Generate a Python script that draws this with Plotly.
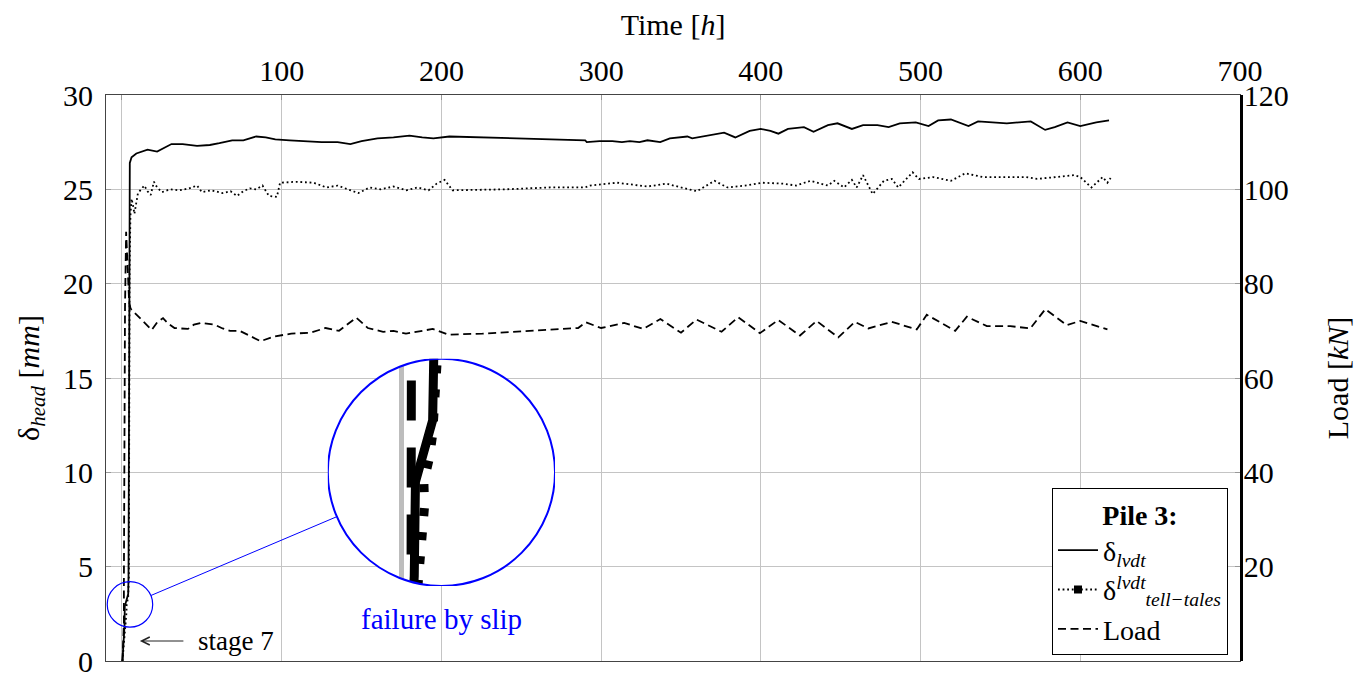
import numpy as np
import plotly.graph_objects as go

# ---------------- data ----------------
time_lvdt = [0.3, 1.0, 1.6, 1.75, 3.9, 4.1, 4.3, 4.5, 4.9, 6, 9, 16, 22, 31, 38, 47, 55, 61, 69, 76,
             84, 90, 96, 105, 115, 125, 135, 143, 150, 160, 170, 180, 188, 195, 205, 250, 268, 290,
             291, 299, 307, 313, 318, 324, 329, 337, 343, 354, 357, 364, 371, 377, 384, 393, 400,
             406, 411, 417, 427, 433, 442, 448, 457, 464, 473, 480, 487, 497, 505, 511, 519, 530,
             536, 554, 569, 578, 584, 592, 600, 610, 618]
delta_lvdt = [0.0, 1.0, 1.9, 2.9, 3.55, 4.5, 15.0, 24.0, 26.4, 26.7, 26.9, 27.1, 27.0, 27.4, 27.4,
              27.3, 27.35, 27.45, 27.6, 27.6, 27.8, 27.75, 27.65, 27.6, 27.55, 27.5, 27.5, 27.4,
              27.55, 27.7, 27.75, 27.85, 27.75, 27.7, 27.8, 27.7, 27.65, 27.6, 27.5, 27.55, 27.55,
              27.5, 27.55, 27.5, 27.6, 27.5, 27.7, 27.8, 27.7, 27.8, 27.9, 28.0, 27.75, 28.1, 28.2,
              28.1, 27.95, 28.2, 28.3, 28.05, 28.4, 28.5, 28.2, 28.4, 28.4, 28.3, 28.5, 28.55,
              28.35, 28.65, 28.7, 28.35, 28.6, 28.5, 28.6, 28.15, 28.3, 28.55, 28.35, 28.55, 28.65]

time_tt = [0.3, 1.3, 2.1, 2.5, 2.8, 2.9, 2.8, 3.5, 3.9, 4.3, 4.5, 4.8, 5.3, 6, 6.8, 7.8, 10, 14, 16,
           18, 20, 22, 25, 30, 36, 42, 47, 50, 56, 63, 68, 72, 76, 80, 84, 88, 92, 97, 99, 109, 120,
           128, 135, 142, 148, 155, 162, 170, 178, 185, 192, 197, 202, 207, 240, 268, 290, 293, 310,
           329, 341, 350, 360, 371, 379, 390, 401, 414, 422, 431, 442, 446, 452, 457, 460, 464, 470,
           477, 482, 486, 495, 499, 508, 519, 528, 539, 550, 566, 573, 583, 596, 600, 607, 614, 617,
           619]
delta_tt = [0.0, 1.0, 1.88, 2.14, 2.4, 2.65, 2.9, 3.15, 3.4, 4.5, 15.0, 21.0, 23.6, 24.5, 24.2, 23.7,
            24.8, 25.2, 24.9, 24.7, 25.4, 25.1, 24.85, 25.0, 24.95, 25.05, 25.2, 24.85, 24.95, 24.8,
            24.9, 24.65, 24.9, 25.05, 25.0, 25.2, 24.65, 24.6, 25.35, 25.4, 25.35, 25.1, 25.2, 25.0,
            24.8, 25.1, 25.0, 25.15, 24.95, 25.1, 24.95, 25.3, 25.5, 24.95, 25.0, 25.1, 25.1, 25.2,
            25.35, 25.15, 25.3, 25.1, 24.9, 25.45, 25.1, 25.2, 25.35, 25.3, 25.2, 25.45, 25.2, 25.45,
            25.1, 25.5, 25.1, 25.75, 24.75, 25.45, 25.55, 25.1, 25.9, 25.55, 25.65, 25.45, 25.85,
            25.65, 25.65, 25.65, 25.55, 25.65, 25.75, 25.65, 25.1, 25.65, 25.35, 25.6]

time_load = [0.3, 0.9, 1.2, 1.2, 1.3, 1.5, 1.9, 2.6, 4.5, 5.4, 9, 13, 18.6, 22, 25.7, 29, 32.9, 41.3,
             45, 49.7, 58.1, 63, 67.7, 73.7, 80, 86.8, 95.2, 106, 118, 127.5, 135.9, 146.7, 153.9,
             163.5, 170, 177.8, 194.6, 204.2, 225.7, 285.6, 290.4, 300, 314.4, 326.3, 337.1, 350,
             359.7, 375.4, 385.8, 399.4, 410.9, 424.5, 434.9, 448.5, 458.9, 467.3, 482, 497.6,
             503.9, 521.7, 529, 541.5, 556.2, 568.7, 578.1, 591.5, 600, 614.6, 617]
load_kn = [0, 4, 8, 17, 30, 55, 75, 91, 76, 74.7, 73.5, 72.0, 70.2, 71.8, 72.7, 71.5, 70.6, 70.4,
           71.3, 71.7, 71.3, 70.5, 70.0, 70.0, 69.0, 67.8, 68.8, 69.4, 69.6, 70.6, 70.0, 72.8, 70.6,
           69.8, 70.0, 69.4, 70.4, 69.2, 69.4, 70.6, 71.8, 70.6, 71.7, 70.4, 72.5, 69.6, 72.4, 69.8,
           72.9, 69.5, 72.3, 69.0, 72.1, 68.6, 71.9, 70.5, 71.9, 70.3, 73.4, 70.0, 73.0, 71.0, 71.0,
           70.5, 74.6, 71.2, 72.1, 70.5, 70.3]

time_ticks = list(range(0, 701, 100))
time_ticktext = [""] + [str(v) for v in range(100, 701, 100)]
delta_ticks = list(range(0, 31, 5))
load_ticks = list(range(20, 121, 20))

# ---------------- geometry / style ----------------
FONT = "Liberation Serif"
W, H = 1372, 675
ML, MR, MT, MB = 106, 132, 95, 14
PW, PH = W - ML - MR, H - MT - MB
XR, YR, LR = [-10, 700], [0, 30], [0, 120]
KX = PW / (XR[1] - XR[0])
KY = PH / (YR[1] - YR[0])
LOAD_PER_Y = (LR[1] - LR[0]) / (YR[1] - YR[0])

SPY_SRC = (5.0, 3.0)
SPY_DST = (200.0, 10.0)
MAG = 5.0
R_BIG = 113.6
R_SMALL = R_BIG / MAG
rxb, ryb = R_BIG / KX, R_BIG / KY
rxs, rys = rxb / MAG, ryb / MAG
BLUE = "#0000ff"
GRID = "#c4c4c4"


def fx(x):
    return (x - XR[0]) / (XR[1] - XR[0])


def fy(y):
    return (y - YR[0]) / (YR[1] - YR[0])


fig = go.Figure()

# main traces
fig.add_trace(go.Scatter(x=time_lvdt, y=delta_lvdt, mode="lines", name="δ<sub><i>lvdt</i></sub>",
                         line=dict(color="black", width=1.8), xaxis="x", yaxis="y"))
fig.add_trace(go.Scatter(x=time_tt, y=delta_tt, mode="lines", showlegend=False,
                         line=dict(color="black", width=1.8, dash="1.8px,2.8px"), xaxis="x", yaxis="y"))
fig.add_trace(go.Scatter(x=[None], y=[None], mode="lines+markers",
                         name="δ<sup><i>lvdt</i></sup><sub><i>tell−tales</i></sub>",
                         line=dict(color="black", width=1.8, dash="1.8px,2.8px"),
                         marker=dict(symbol="square", size=8, color="black"), xaxis="x", yaxis="y"))
fig.add_trace(go.Scatter(x=time_load, y=load_kn, mode="lines", name="Load",
                         line=dict(color="black", width=1.8, dash="8px,4.5px"), xaxis="x", yaxis="y2"))

# magnified (spy) traces
fig.add_trace(go.Scatter(x=time_lvdt, y=delta_lvdt, mode="lines", showlegend=False,
                         line=dict(color="black", width=9), xaxis="x3", yaxis="y3"))
fig.add_trace(go.Scatter(x=time_tt, y=delta_tt, mode="lines", showlegend=False,
                         line=dict(color="black", width=9, dash="8px,16px"), xaxis="x3", yaxis="y3"))
fig.add_trace(go.Scatter(x=time_load, y=load_kn, mode="lines", showlegend=False,
                         line=dict(color="black", width=9, dash="40px,27px"), xaxis="x3", yaxis="y4"))

# ---------------- shapes ----------------
cx, cy = SPY_SRC
shapes = []
# white disc of the magnifier (inside the inset subplot, below its traces)
shapes.append(dict(type="circle", xref="x3", yref="y3", x0=cx - rxs, x1=cx + rxs,
                   y0=cy - rys, y1=cy + rys, fillcolor="white", line=dict(width=0), layer="below"))


def mask_path(top):
    xa = cx + (-64) / (KX * MAG)
    xb = cx + (18) / (KX * MAG)
    xs = np.linspace(xb, xa, 40)
    t = np.clip(1 - ((xs - cx) / rxs) ** 2, 0, 1)
    ext = 1.0 / (KY * MAG)
    if top:
        ye = cy + rys + ext
        ys = cy + rys * np.sqrt(t)
    else:
        ye = cy - rys - ext
        ys = cy - rys * np.sqrt(t)
    p = f"M{xa},{ye} L{xb},{ye} " + " ".join(f"L{x},{y}" for x, y in zip(xs, ys)) + " Z"
    return p


for top in (True, False):
    shapes.append(dict(type="path", xref="x3", yref="y3", path=mask_path(top),
                       fillcolor="white", line=dict(width=0), layer="above"))
shapes.append(dict(type="circle", xref="x3", yref="y3", x0=cx - rxs, x1=cx + rxs,
                   y0=cy - rys, y1=cy + rys, line=dict(color=BLUE, width=2), layer="above"))
# small source circle
shapes.append(dict(type="circle", xref="x", yref="y", x0=cx - R_SMALL / KX, x1=cx + R_SMALL / KX,
                   y0=cy - R_SMALL / KY, y1=cy + R_SMALL / KY, line=dict(color=BLUE, width=1.2),
                   layer="above"))
# connector
dxp = (SPY_DST[0] - SPY_SRC[0]) * KX
dyp = (SPY_DST[1] - SPY_SRC[1]) * KY
Lp = np.hypot(dxp, dyp)
ux, uy = dxp / Lp, dyp / Lp
shapes.append(dict(type="line", xref="x", yref="y",
                   x0=SPY_SRC[0] + ux * R_SMALL / KX, y0=SPY_SRC[1] + uy * R_SMALL / KY,
                   x1=SPY_DST[0] - ux * R_BIG / KX, y1=SPY_DST[1] - uy * R_BIG / KY,
                   line=dict(color=BLUE, width=1), layer="above"))

# ---------------- annotations ----------------
stage_y = 1.06
annotations = [
    dict(x=SPY_DST[0], y=2.23, xref="x", yref="y", text="failure by slip", showarrow=False,
         font=dict(family=FONT, size=29, color=BLUE)),
    dict(x=11.2, y=stage_y, xref="x", yref="y", ax=39.4, ay=stage_y, axref="x", ayref="y",
         text="", showarrow=True, arrowhead=5, arrowsize=1.6, arrowwidth=1, arrowcolor="#222"),
    dict(x=46.3, y=stage_y, xref="x", yref="y", text="stage 7", showarrow=False,
         xanchor="left", font=dict(family=FONT, size=27, color="black")),
]

axis_common = dict(showgrid=True, gridcolor=GRID, gridwidth=1, ticks="inside", ticklen=5,
                   tickcolor="#999999", showline=True, linecolor="#444444", linewidth=1.2,
                   zeroline=False, tickfont=dict(family=FONT, size=30, color="black"),
                   automargin=False, ticklabeloverflow="allow")

fig.update_layout(
    width=W, height=H,
    margin=dict(l=ML, r=MR, t=MT, b=MB, pad=0),
    paper_bgcolor="white", plot_bgcolor="rgba(0,0,0,0)",
    font=dict(family=FONT, size=29, color="black"),
    xaxis=dict(range=XR, side="top", tickmode="array", tickvals=time_ticks, ticktext=time_ticktext,
               mirror=True, ticklabelstandoff=1,
               title=dict(text="Time [<i>h</i>]", font=dict(family=FONT, size=30), standoff=9),
               **axis_common),
    yaxis=dict(range=YR, tickmode="array", tickvals=delta_ticks, mirror=True, ticklabelstandoff=6,
               title=dict(text="δ<sub><i>head</i></sub> [<i>mm</i>]", font=dict(family=FONT, size=30),
                          standoff=14),
               **axis_common),
    yaxis2=dict(range=LR, overlaying="y", side="right", tickmode="array", tickvals=load_ticks,
                showgrid=False, ticks="inside", ticklen=5, tickcolor="#999999", showline=True,
                linecolor="black", linewidth=2.5, zeroline=False, ticklabelstandoff=-5,
                tickfont=dict(family=FONT, size=30, color="black"), automargin=False,
                ticklabeloverflow="allow",
                title=dict(text="Load [<i>kN</i>]", font=dict(family=FONT, size=30), standoff=40)),
    xaxis3=dict(domain=[fx(SPY_DST[0] - rxb), fx(SPY_DST[0] + rxb)], anchor="y3",
                range=[cx - rxs, cx + rxs], showgrid=True, tickmode="array", tickvals=[0],
                gridcolor="#bdbdbd", gridwidth=5, showticklabels=False, ticks="", showline=False,
                zeroline=False, fixedrange=True),
    yaxis3=dict(domain=[fy(SPY_DST[1] - ryb), fy(SPY_DST[1] + ryb)], anchor="x3",
                range=[cy - rys, cy + rys], showgrid=False, showticklabels=False, ticks="",
                showline=False, zeroline=False, fixedrange=True),
    yaxis4=dict(overlaying="y3", anchor="x3", side="right",
                range=[LOAD_PER_Y * (cy - rys), LOAD_PER_Y * (cy + rys)], visible=False,
                fixedrange=True),
    legend=dict(x=(1228 - ML) / PW, y=(H - MB - 655) / PH, xanchor="right", yanchor="bottom",
                bgcolor="white", bordercolor="black", borderwidth=1,
                font=dict(family=FONT, size=28, color="black"),
                title=dict(text="<b>Pile 3:</b>", side="top center", font=dict(family=FONT, size=28)),
                itemwidth=40, tracegroupgap=0),
    shapes=shapes,
    annotations=annotations,
    showlegend=True,
)

fig.write_html("out.html")
